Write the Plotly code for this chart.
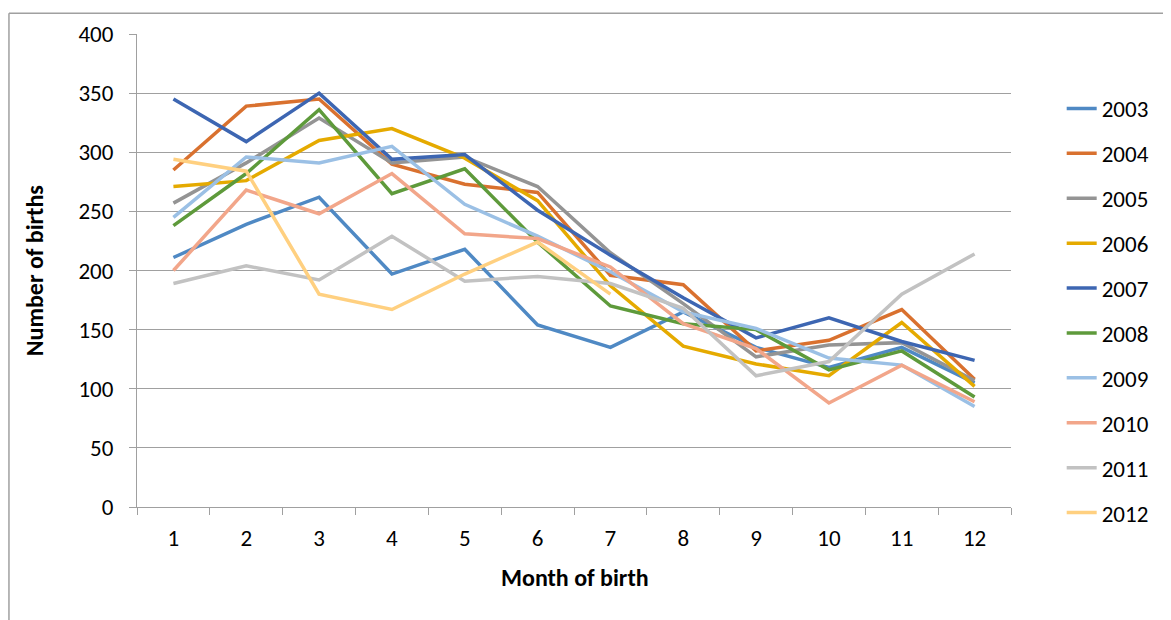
import plotly.graph_objects as go

# Births per month, one list per year (2012 only runs to July)
months = [str(m) for m in range(1, 13)]
years = ['2003', '2004', '2005', '2006', '2007', '2008', '2009', '2010', '2011', '2012']

births_2003 = [211, 239, 262, 197, 218, 154, 135, 165, 135, 118, 135, 105]
births_2004 = [285, 339, 345, 290, 273, 266, 196, 188, 132, 141, 167, 108]
births_2005 = [257, 291, 329, 291, 296, 271, 215, 172, 127, 137, 139, 107]
births_2006 = [271, 276, 310, 320, 295, 259, 187, 136, 121, 111, 156, 102]
births_2007 = [345, 309, 350, 294, 298, 251, 213, 177, 143, 160, 140, 124]
births_2008 = [238, 282, 336, 265, 286, 224, 170, 155, 150, 116, 132, 93]
births_2009 = [245, 296, 291, 305, 256, 229, 199, 165, 151, 126, 120, 85]
births_2010 = [200, 268, 248, 282, 231, 227, 203, 155, 134, 88, 120, 89]
births_2011 = [189, 204, 192, 229, 191, 195, 189, 168, 111, 123, 180, 214]
births_2012 = [294, 284, 180, 167, 197, 224, 180]

series = [births_2003, births_2004, births_2005, births_2006, births_2007,
          births_2008, births_2009, births_2010, births_2011, births_2012]

colors = ['#4F89C4', '#D9712F', '#949494', '#E5AA00', '#3D66B2',
          '#5E9A3B', '#9BC0E5', '#F2A68A', '#C2C2C2', '#FFD080']

FONT = 'Calibri, Carlito, Lato, sans-serif'
GRID = '#A0A0A0'

fig = go.Figure()

for year, values, color in zip(years, series, colors):
    fig.add_trace(go.Scatter(
        x=months[:len(values)],
        y=values,
        mode='lines',
        name=year,
        legendgroup=year,
        line=dict(color=color, width=3.5),
    ))

# page body adds an 8px offset, so the figure is sized/margined to compensate
fig.update_layout(
    width=1163,
    height=612,
    paper_bgcolor='white',
    plot_bgcolor='white',
    margin=dict(l=129, r=160, t=22, b=113),
    font=dict(family=FONT, size=23, color='black'),
    showlegend=True,
    legend=dict(
        x=1.058, xanchor='left',
        y=0.888, yanchor='top',
        font=dict(size=23),
        tracegroupgap=12,
        bgcolor='rgba(0,0,0,0)',
    ),
    xaxis=dict(
        type='category',
        categoryorder='array',
        categoryarray=months,
        range=[-0.5, 11.5],
        tickson='boundaries',
        ticks='outside',
        ticklen=7,
        tickcolor=GRID,
        showline=True,
        linecolor=GRID,
        linewidth=1,
        showgrid=False,
        ticklabelstandoff=10,
    ),
    yaxis=dict(
        range=[0, 400],
        dtick=50,
        ticks='outside',
        ticklen=7,
        tickcolor=GRID,
        showline=True,
        linecolor=GRID,
        linewidth=1,
        showgrid=True,
        gridcolor=GRID,
        gridwidth=1,
        zeroline=False,
        ticklabelstandoff=11,
    ),
    annotations=[
        dict(text='<b>Number of births</b>', xref='paper', yref='paper',
             x=-0.117, y=0.5, textangle=-90, showarrow=False,
             font=dict(size=24), xanchor='center', yanchor='middle'),
        dict(text='<b>Month of birth</b>', xref='paper', yref='paper',
             x=0.501, y=-0.149, showarrow=False,
             font=dict(size=24), xanchor='center', yanchor='middle'),
    ],
    shapes=[
        # outer chart frame, cropped at the right and bottom
        dict(type='line', xref='paper', yref='paper',
             x0=-0.1465, x1=1.2, y0=1.044, y1=1.044,
             line=dict(color='#A0A0A0', width=1.5)),
        dict(type='line', xref='paper', yref='paper',
             x0=-0.1465, x1=-0.1465, y0=1.044, y1=-0.25,
             line=dict(color='#A0A0A0', width=1.5)),
    ],
)

fig.write_html("out.html")
